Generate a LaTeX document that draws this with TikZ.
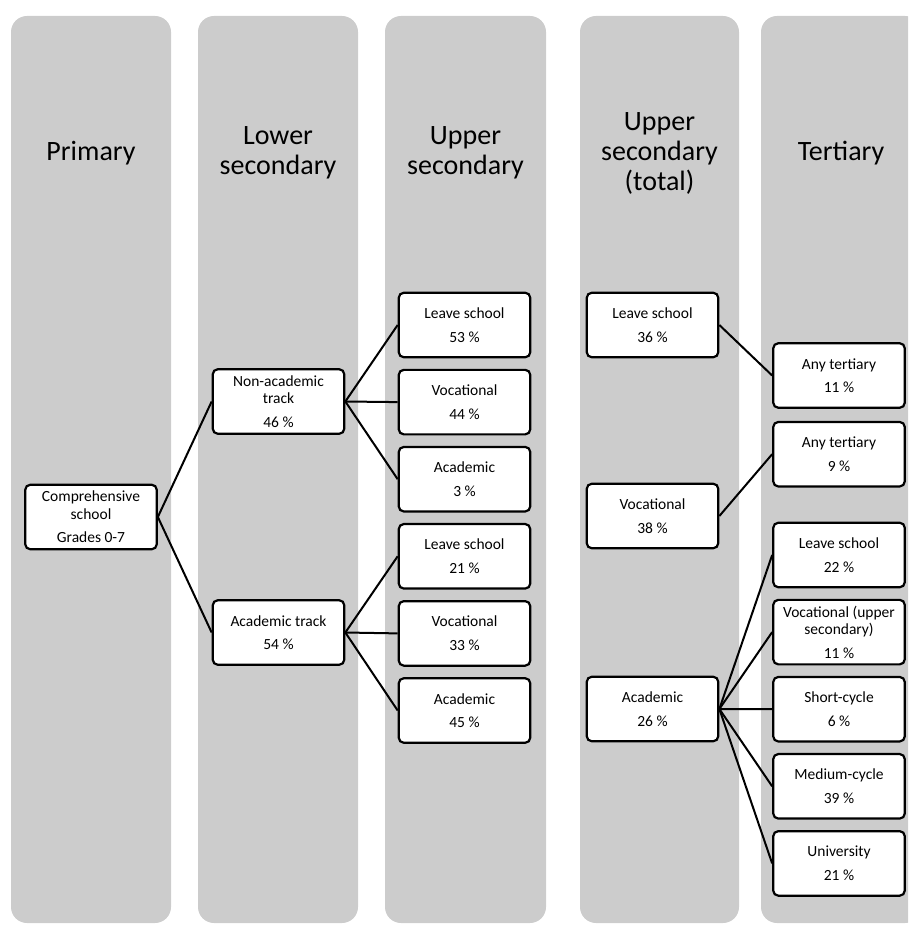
\documentclass[tikz,border=0pt]{standalone}
\usepackage{fontspec}
\setmainfont{Carlito}
\usetikzlibrary{positioning}

\begin{document}
\begin{tikzpicture}[x=1pt, y=-1pt, node distance=10.4pt,
    band/.style={fill=black!20, rounded corners=16pt},
    title/.style={align=center, font=\fontsize{28}{30}\selectfont},
    box/.style={rectangle, draw, fill=white, line width=2.2pt, rounded corners=5pt,
        minimum width=131.5pt, minimum height=64.5pt, align=center, inner sep=1pt,
        font=\fontsize{15.5}{17.5}\selectfont},
    link/.style={line width=2pt}]
    \clip (0,0) rectangle (908,925);

    \fill[band] (11,16) rectangle (171,923);
    \fill[band] (198,16) rectangle (358,923);
    \fill[band] (385,16) rectangle (546,923);
    \fill[band] (580,16) rectangle (739,923);
    \fill[band] (761,16) rectangle (921,923);

    \node (primary) [title] at (91,153) {Primary};
    \node (lower) [title] at (278,153) {Lower\\secondary};
    \node (upper) [title] at (465.5,153) {Upper\\secondary};
    \node (total) [title] at (659.5,153) {Upper\\secondary\\(total)};
    \node (tertiary) [title] at (841,153) {Tertiary};

    \node (comp) [box] at (91,517) {Comprehensive\\school\\[6pt]Grades 0-7};

    \node (nonacad) [box] at (278.5,401.5) {Non-academic\\track\\[6pt]46 \%};
    \node (acadtr) [box] at (278.5,632.5) {Academic track\\[6pt]54 \%};

    \node (leaveA) [box] at (464.5,325) {Leave school\\[6pt]53 \%};
    \node (vocA) [box, below=of leaveA] {Vocational\\[6pt]44 \%};
    \node (acadA) [box, below=of vocA] {Academic\\[6pt]3 \%};
    \node (leaveB) [box, below=of acadA] {Leave school\\[6pt]21 \%};
    \node (vocB) [box, below=of leaveB] {Vocational\\[6pt]33 \%};
    \node (acadB) [box, below=of vocB] {Academic\\[6pt]45 \%};

    \node (leaveT) [box] at (652.5,325) {Leave school\\[6pt]36 \%};
    \node (vocT) [box] at (652.5,516) {Vocational\\[6pt]38 \%};
    \node (acadT) [box] at (652.5,709) {Academic\\[6pt]26 \%};

    \node (anyA) [box] at (839,375.5) {Any tertiary\\[6pt]11 \%};
    \node (anyB) [box, below=12pt of anyA] {Any tertiary\\[6pt]9 \%};
    \node (leaveC) [box] at (839,555) {Leave school\\[6pt]22 \%};
    \node (vocC) [box, below=of leaveC] {Vocational (upper\\secondary)\\[6pt]11 \%};
    \node (short) [box, below=of vocC] {Short-cycle\\[6pt]6 \%};
    \node (medium) [box, below=of short] {Medium-cycle\\[6pt]39 \%};
    \node (univ) [box, below=of medium] {University\\[6pt]21 \%};

    \draw [link] (comp.east) -- (nonacad.west);
    \draw [link] (comp.east) -- (acadtr.west);
    \foreach \t in {leaveA, vocA, acadA}
        \draw [link] (nonacad.east) -- (\t.west);
    \foreach \t in {leaveB, vocB, acadB}
        \draw [link] (acadtr.east) -- (\t.west);
    \draw [link] (leaveT.east) -- (anyA.west);
    \draw [link] (vocT.east) -- (anyB.west);
    \foreach \t in {leaveC, vocC, short, medium, univ}
        \draw [link] (acadT.east) -- (\t.west);
\end{tikzpicture}
\end{document}
